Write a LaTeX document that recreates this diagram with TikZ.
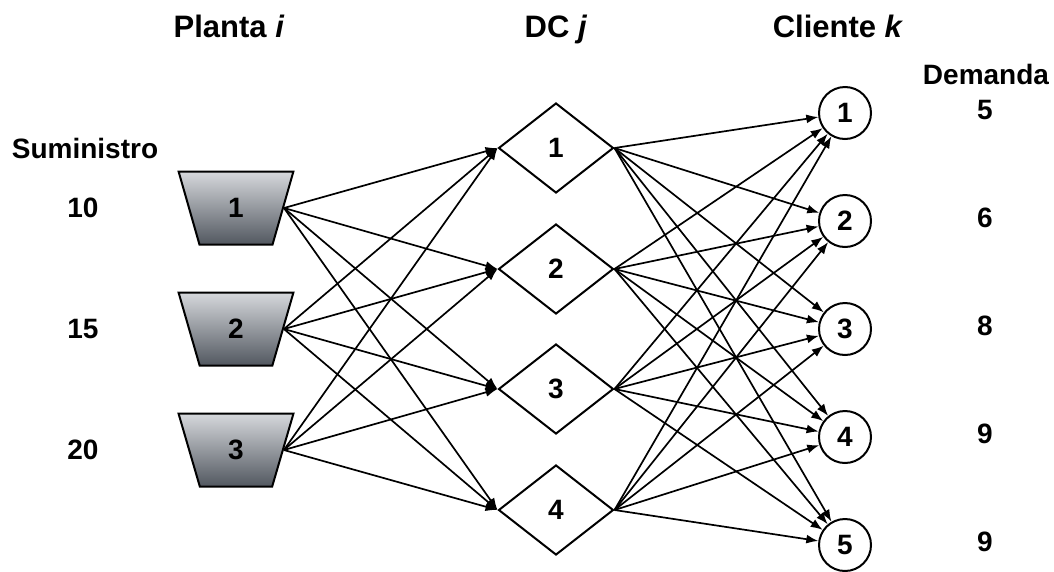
\documentclass[tikz,border=0pt]{standalone}
\usepackage{fontspec}
\setmainfont{Liberation Sans}
\usetikzlibrary{shapes.geometric,arrows.meta}
\definecolor{plantdark}{RGB}{82,88,96}
\definecolor{plantlight}{RGB}{214,216,220}

\begin{document}
\begin{tikzpicture}[x=1pt, y=-1pt,
  every node/.style = {font=\bfseries\fontsize{28}{32}\selectfont},
  title/.style = {font=\bfseries\fontsize{31}{36}\selectfont, anchor=base},
  plant/.style = {trapezium, trapezium left angle=103, trapezium right angle=103,
    trapezium stretches, minimum width=115pt, minimum height=73pt, inner sep=0pt,
    draw, line width=2pt, top color=plantlight, bottom color=plantdark},
  dc/.style = {diamond, draw, line width=2pt, minimum width=115pt,
    minimum height=90pt, inner sep=0pt},
  client/.style = {circle, draw, line width=2pt, minimum size=52pt, inner sep=0pt},
  flow/.style = {line width=1.7pt, -{Latex[length=12pt,width=9pt]}}]
  \useasboundingbox (0,0) rectangle (1054,571);

  % headings
  \node[title] (tplant) at (229,37) {Planta \textit{i}};
  \node[title] (tdc) at (556,37) {DC \textit{j}};
  \node[title] (tclient) at (838,37) {Cliente \textit{k}};
  \node[anchor=base] (tsupply) at (85,158) {Suministro};
  \node[anchor=base] (tdemand) at (986,84) {Demanda};

  % plants, DCs, clients
  \foreach \i/\y/\s in {1/208/10, 2/329/15, 3/450/20} {
    \node[plant] (p\i) at (236,\y) {\i};
    \node (s\i) at (83,\y) {\s};
  }
  \foreach \j/\y in {1/148, 2/269, 3/389, 4/510}
    \node[dc] (d\j) at (556,\y) {\j};
  \foreach \k/\y/\q in {1/113/5, 2/221/6, 3/329/8, 4/437/9, 5/545/9} {
    \node[client] (c\k) at (845,\y) {\k};
    \node (q\k) at (985,\y-3) {\q};
  }

  % flows
  \foreach \i in {1,2,3}
    \foreach \j in {1,...,4}
      \draw[flow] (p\i.east) -- (d\j.west);
  \foreach \j in {1,...,4}
    \foreach \k in {1,...,5}
      \draw[flow] (d\j.east) -- (c\k);
\end{tikzpicture}
\end{document}
